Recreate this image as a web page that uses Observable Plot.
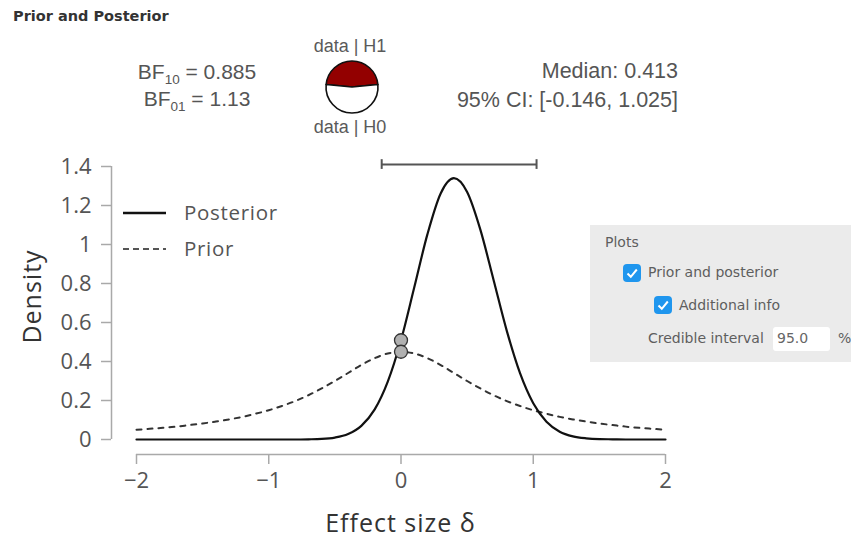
<!DOCTYPE html>
<html><head><meta charset="utf-8">
<script src="https://cdn.jsdelivr.net/npm/d3@7"></script>
<script src="https://cdn.jsdelivr.net/npm/@observablehq/plot@0.6"></script>
<style>
body{margin:0;background:#fff}
#wrap{position:relative;width:851px;height:537px;overflow:hidden;background:#fff}
.abs{position:absolute;white-space:nowrap}
.ui{font-family:'DejaVu Sans',sans-serif;font-size:14px;color:#5e5e5e}
.cb{position:absolute;width:18px;height:18px;border-radius:4px;background:#1f96ee}
.sb{font-size:13.5px;position:relative;top:5px;line-height:0}
</style></head><body>
<div id="wrap">
  <div id="chart" class="abs" style="left:0;top:0"></div>
  <div id="title" class="abs" style="left:13px;top:8px;font:bold 14.5px 'DejaVu Sans',sans-serif;color:#333">Prior and Posterior</div>
  <div id="bf" class="abs" style="left:97px;top:58px;width:200px;text-align:center;font:21px 'Liberation Sans',Arial,sans-serif;line-height:27px;color:#555"></div>
  <div id="pieTop" class="abs" style="left:300px;top:35px;width:100px;text-align:center;font:18px 'Liberation Sans',Arial,sans-serif;line-height:22px;color:#5a5a5a"></div>
  <div id="pie" class="abs" style="left:322px;top:57px"></div>
  <div id="pieBottom" class="abs" style="left:300px;top:116px;width:100px;text-align:center;font:18px 'Liberation Sans',Arial,sans-serif;line-height:22px;color:#5a5a5a"></div>
  <div id="summary" class="abs" style="right:173px;top:57px;text-align:right;font:21.5px 'Liberation Sans',Arial,sans-serif;line-height:29px;color:#555"></div>
  <div id="legend" class="abs" style="left:110px;top:190px"></div>
  <div id="panel" class="abs ui" style="left:590px;top:225px;width:261px;height:137px;background:#ebebeb">
    <div class="abs" style="left:15px;top:9px">Plots</div>
    <div class="cb" style="left:33px;top:39px"><svg width="18" height="18"><path d="M4.5 9.5 L7.8 12.8 L13.8 5.5" fill="none" stroke="#fff" stroke-width="2"/></svg></div>
    <div class="abs" style="left:58px;top:39px">Prior and posterior</div>
    <div class="cb" style="left:64px;top:71px"><svg width="18" height="18"><path d="M4.5 9.5 L7.8 12.8 L13.8 5.5" fill="none" stroke="#fff" stroke-width="2"/></svg></div>
    <div class="abs" style="left:89px;top:72px">Additional info</div>
    <div class="abs" style="left:58px;top:105px">Credible interval</div>
    <div class="abs" style="left:183px;top:102px;width:57px;height:24px;background:#fff;border-radius:3px"></div>
    <div id="ciInput" class="abs" style="left:187px;top:105px;color:#666"></div>
    <div class="abs" style="left:248px;top:105px">%</div>
  </div>
</div>
<script>
// ---- data ----
const effectSize = [-2,-1.9,-1.8,-1.7,-1.6,-1.5,-1.4,-1.3,-1.2,-1.1,-1,-0.9,-0.8,-0.7,-0.6,-0.5,-0.4,-0.3,-0.2,-0.1,0,0.1,0.2,0.3,0.4,0.5,0.6,0.7,0.8,0.9,1,1.1,1.2,1.3,1.4,1.5,1.6,1.7,1.8,1.9,2];
const posteriorDensity = [0,0,0,0,0,0,0,0,0,0,0,0,0,0.001,0.003,0.010,0.028,0.070,0.153,0.297,0.509,0.779,1.053,1.262,1.340,1.269,1.076,0.818,0.557,0.340,0.186,0.091,0.040,0.016,0.006,0.002,0.001,0,0,0,0];
const priorDensity = [0.050,0.055,0.060,0.066,0.074,0.082,0.092,0.103,0.116,0.132,0.150,0.172,0.197,0.227,0.262,0.300,0.341,0.382,0.417,0.441,0.450,0.441,0.417,0.382,0.341,0.300,0.262,0.227,0.197,0.172,0.150,0.132,0.116,0.103,0.092,0.082,0.074,0.066,0.060,0.055,0.050];
const xTicks = [-2,-1,0,1,2];
const yTicks = [0,0.2,0.4,0.6,0.8,1,1.2,1.4];
const ciBounds = [-0.146, 1.025];
const ciLevel = "95.0";
const posteriorMedian = 0.413;
const bf10 = 0.885;
const bf01 = 1.13;
const nullValue = 0;
const densityAtNull = [0.509, 0.450];        // posterior, prior at delta = 0
const legendLabels = ["Posterior", "Prior"];
const pieLabels = ["data | H1", "data | H0"];
const axisTitles = {x: "Effect size \u03b4", y: "Density"};

// ---- chart ----
const series = effectSize.map((x, i) => ({x, posterior: posteriorDensity[i], prior: priorDensity[i]}));
const nullPoints = densityAtNull.map(v => ({x: nullValue, y: v}));
const ci = [{lo: ciBounds[0], hi: ciBounds[1]}];
const fmtX = d => d < 0 ? "\u2212" + Math.abs(d) : String(d);
const axisGrey = "#a9a9a9";

const plot = Plot.plot({
  width: 851, height: 537,
  marginTop: 166, marginBottom: 83, marginLeft: 111, marginRight: 186,
  style: {fontFamily: "'Open Sans', sans-serif", background: "transparent", overflow: "visible"},
  x: {domain: [-2, 2], insetLeft: 25},
  y: {domain: [0, 1.4], insetBottom: 15},
  marks: [
    Plot.ruleX([-2], {y1: 0, y2: 1.4, dx: -25, stroke: axisGrey, strokeWidth: 1.5}),
    Plot.ruleY([0], {x1: -2, x2: 2, dy: 15, stroke: axisGrey, strokeWidth: 1.5}),
    Plot.axisY({ticks: yTicks, tickFormat: d => String(d), tickSize: 10, tickPadding: 10, fontSize: 22, stroke: axisGrey, strokeWidth: 1.5, fill: "#555", label: null}),
    Plot.axisX({ticks: xTicks, tickFormat: fmtX, tickSize: 10, tickPadding: 8, fontSize: 22, stroke: axisGrey, strokeWidth: 1.5, fill: "#555", label: null}),
    Plot.text([axisTitles.y], {text: d => d, frameAnchor: "left", textAnchor: "middle", lineAnchor: "middle", rotate: -90, dx: -79, dy: -14, fontSize: 25, fill: "#333"}),
    Plot.text([axisTitles.x], {text: d => d, frameAnchor: "bottom", textAnchor: "middle", lineAnchor: "middle", dx: 12, dy: 69, fontSize: 25, fill: "#333"}),
    Plot.line(series, {x: "x", y: "prior", stroke: "#333", strokeWidth: 2, strokeDasharray: "5,6", curve: "monotone-x"}),
    Plot.line(series, {x: "x", y: "posterior", stroke: "#111", strokeWidth: 2.2, curve: "monotone-x"}),
    Plot.ruleY(ci, {x1: "lo", x2: "hi", y: 1.41, stroke: "#555", strokeWidth: 2}),
    Plot.ruleX(ciBounds, {y1: 1.385, y2: 1.435, stroke: "#555", strokeWidth: 2}),
    Plot.dot(nullPoints, {x: "x", y: "y", r: 6.5, fill: "#b0b0b0", stroke: "#333", strokeWidth: 1.3})
  ]
});
d3.select(plot).selectAll("text")
  .filter(function() { return this.textContent === axisTitles.y || this.textContent === axisTitles.x; })
  .attr("letter-spacing", 1);
document.getElementById("chart").appendChild(plot);

// ---- annotations ----
document.getElementById("bf").innerHTML =
  `BF<span class="sb">10</span> = ${bf10}<br>BF<span class="sb">01</span> = ${bf01}`;
document.getElementById("summary").innerHTML =
  `Median: ${posteriorMedian}<br>95% CI: [${ciBounds[0]}, ${ciBounds[1]}]`;
document.getElementById("pieTop").textContent = pieLabels[0];
document.getElementById("pieBottom").textContent = pieLabels[1];
document.getElementById("ciInput").textContent = ciLevel;

// pie of posterior model probabilities
const pH1 = bf10 / (1 + bf10);
const R = 26;
const pieSvg = d3.select("#pie").append("svg").attr("width", 60).attr("height", 60);
const arcs = d3.pie().sort(null).startAngle(-Math.PI * pH1).endAngle(2 * Math.PI - Math.PI * pH1)([pH1, 1 - pH1]);
pieSvg.append("g").attr("transform", "translate(30,30)")
  .selectAll("path").data(arcs).join("path")
  .attr("d", d3.arc().innerRadius(0).outerRadius(R))
  .attr("fill", (d, i) => i === 0 ? "#930000" : "#fff")
  .attr("stroke", "#111").attr("stroke-width", 1.6).attr("stroke-linejoin", "round");

// legend inside the plot
const lg = d3.select("#legend").append("svg").attr("width", 200).attr("height", 80)
  .style("font-family", "'Open Sans', sans-serif");
const styles = [{stroke: "#111", w: 2.6, dash: null}, {stroke: "#555", w: 1.8, dash: "6,4"}];
legendLabels.forEach((lab, i) => {
  const yy = 23 + i * 36;
  lg.append("line").attr("x1", 13).attr("x2", 56).attr("y1", yy).attr("y2", yy)
    .attr("stroke", styles[i].stroke).attr("stroke-width", styles[i].w)
    .attr("stroke-dasharray", styles[i].dash);
  lg.append("text").attr("x", 74).attr("y", yy).attr("dy", "0.35em")
    .attr("font-size", 20.5).attr("fill", "#555").attr("letter-spacing", 0.7).text(lab);
});
</script>
</body></html>
